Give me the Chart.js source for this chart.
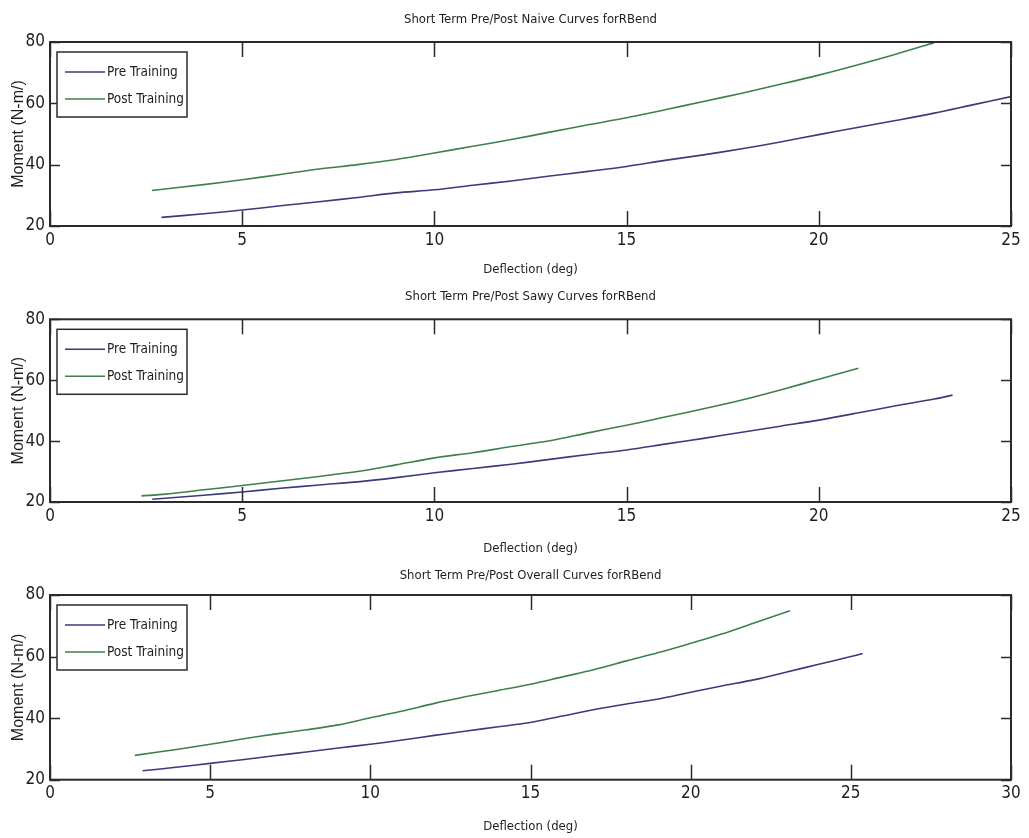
<!DOCTYPE html>
<html>
<head>
<meta charset="utf-8">
<title>Short Term Pre/Post Curves forRBend</title>
<script src="https://cdn.jsdelivr.net/npm/chart.js@4.4.1/dist/chart.umd.min.js"></script>
<style>
  html, body { margin: 0; padding: 0; background: #fff; }
  #page { position: relative; width: 1029px; height: 838px; overflow: hidden; }
  .panel { position: absolute; left: 0; width: 1029px; }
</style>
</head>
<body>
<div id="page">
  <div class="panel" style="top:0px;height:279px"><canvas id="grafNaive" width="1029" height="279"></canvas></div>
  <div class="panel" style="top:279px;height:279px"><canvas id="grafSavvy" width="1029" height="279"></canvas></div>
  <div class="panel" style="top:558px;height:280px"><canvas id="grafOverall" width="1029" height="280"></canvas></div>
</div>
<script>
// ------------------------------------------------------
// Dados
// ------------------------------------------------------
const seriesLabels = ["Pre Training", "Post Training"];

// Naive
const naivePreDeflection = [2.9, 4, 5, 6, 7, 8, 9, 10, 11, 12, 13, 14, 15, 16, 17, 18, 19, 20, 21, 22, 23, 24, 25];
const naivePreMoment = [22.8, 24.0, 25.2, 26.6, 27.9, 29.3, 30.8, 31.8, 33.3, 34.7, 36.3, 37.8, 39.4, 41.4, 43.2, 45.2, 47.4, 49.8, 52.1, 54.4, 56.8, 59.5, 62.2];
const naivePostDeflection = [2.65, 4, 5, 6, 7, 8, 9, 10, 11, 12, 13, 14, 15, 16, 17, 18, 19, 20, 21, 22, 23];
const naivePostMoment = [31.6, 33.5, 35.1, 36.8, 38.6, 40.0, 41.7, 43.8, 46.0, 48.2, 50.6, 53.0, 55.3, 57.9, 60.6, 63.3, 66.2, 69.2, 72.5, 76.0, 79.8];

// Savvy
const savvyPreDeflection = [2.66, 4, 5, 6, 7, 8, 9, 10, 11, 12, 13, 14, 15, 16, 17, 18, 19, 20, 21, 22, 23, 23.48];
const savvyPreMoment = [20.9, 22.2, 23.3, 24.5, 25.6, 26.6, 28.0, 29.6, 31.0, 32.4, 34.0, 35.6, 37.1, 39.0, 40.9, 42.9, 44.9, 46.9, 49.2, 51.6, 53.8, 55.1];
const savvyPostDeflection = [2.38, 3, 4, 5, 6, 7, 8, 9, 10, 11, 12, 13, 14, 15, 16, 17, 18, 19, 20, 21.03];
const savvyPostMoment = [22.0, 22.6, 24.0, 25.4, 26.9, 28.4, 30.0, 32.2, 34.5, 36.2, 38.2, 40.1, 42.7, 45.2, 47.9, 50.6, 53.5, 56.8, 60.3, 63.9];

// Overall
const overallPreDeflection = [2.89, 4, 5, 6, 7, 8, 9, 10, 11, 12, 13, 14, 15, 16, 17, 18, 19, 20, 21, 22, 23, 24, 25, 25.37];
const overallPreMoment = [22.9, 24.1, 25.3, 26.5, 27.8, 29.0, 30.3, 31.5, 32.9, 34.4, 35.8, 37.2, 38.6, 40.7, 42.8, 44.6, 46.2, 48.4, 50.5, 52.5, 55.0, 57.5, 60.0, 61.0];
const overallPostDeflection = [2.65, 4, 5, 6, 7, 8, 9, 10, 11, 12, 13, 14, 15, 16, 17, 18, 19, 20, 21, 22, 23.1];
const overallPostMoment = [27.9, 29.9, 31.5, 33.2, 34.8, 36.2, 37.8, 40.1, 42.3, 44.8, 47.0, 49.0, 51.0, 53.4, 55.8, 58.6, 61.3, 64.3, 67.4, 71.0, 74.9];

// Ticks
const yTicks = [20, 40, 60, 80];
const xTicksShort = [0, 5, 10, 15, 20, 25];
const xTicksLong = [0, 5, 10, 15, 20, 25, 30];

// ------------------------------------------------------
// Estilo
// ------------------------------------------------------
const FONTE_ESTREITA = '"Liberation Sans Narrow", "Arial Narrow", "DejaVu Sans Condensed", sans-serif';
const FONTE_NORMAL = '"Liberation Sans", Arial, sans-serif';
const COR_PRE = "#3b3b7c";
const COR_POST = "#3f7f4c";
const COR_EIXO = "#2b2b2b";
const COR_TEXTO = "#1e1e1e";

function toPoints(xs, ys) {
  return xs.map((x, i) => ({ x, y: ys[i] }));
}

// ------------------------------------------------------
// Plugin: caixa dos eixos, ticks internos e legenda (estilo MATLAB)
// ------------------------------------------------------
const matlabBox = {
  id: "matlabBox",
  afterDatasetsDraw(chart) {
    const { ctx, chartArea: a, scales } = chart;
    ctx.save();
    ctx.strokeStyle = COR_EIXO;
    ctx.lineWidth = 1.5;

    // ticks para dentro
    ctx.beginPath();
    scales.x.ticks.forEach(t => {
      const px = Math.round(scales.x.getPixelForValue(t.value)) + 0.5;
      ctx.moveTo(px, a.bottom); ctx.lineTo(px, a.bottom - 15);
      ctx.moveTo(px, a.top); ctx.lineTo(px, a.top + 15);
    });
    scales.y.ticks.forEach(t => {
      const py = Math.round(scales.y.getPixelForValue(t.value)) + 0.5;
      ctx.moveTo(a.left, py); ctx.lineTo(a.left + 10, py);
      ctx.moveTo(a.right, py); ctx.lineTo(a.right - 10, py);
    });
    ctx.stroke();

    ctx.lineWidth = 2;
    ctx.strokeRect(a.left, a.top, a.right - a.left, a.bottom - a.top);

    // legenda
    const bx = a.left + 7, by = a.top + 10, bw = 130, bh = 65;
    ctx.fillStyle = "#fff";
    ctx.fillRect(bx, by, bw, bh);
    ctx.lineWidth = 1.5;
    ctx.strokeRect(bx, by, bw, bh);
    ctx.font = "13.5px " + FONTE_ESTREITA;
    ctx.textBaseline = "middle";
    chart.data.datasets.forEach((ds, i) => {
      const ly = by + 20 + i * 27;
      ctx.strokeStyle = ds.borderColor;
      ctx.lineWidth = 1.5;
      ctx.beginPath();
      ctx.moveTo(bx + 8, ly); ctx.lineTo(bx + 48, ly);
      ctx.stroke();
      ctx.fillStyle = COR_TEXTO;
      ctx.fillText(ds.label, bx + 50, ly);
    });
    ctx.restore();
  }
};

// ------------------------------------------------------
// Criar um gráfico
// ------------------------------------------------------
function gerarGrafico(id, titulo, pre, post, xMax, xTicks, area) {
  const canvas = document.getElementById(id);
  const altura = canvas.height;

  return new Chart(canvas, {
    type: "line",
    data: {
      datasets: [
        { label: seriesLabels[0], data: pre, borderColor: COR_PRE, borderWidth: 1.6, pointRadius: 0, tension: 0.3 },
        { label: seriesLabels[1], data: post, borderColor: COR_POST, borderWidth: 1.6, pointRadius: 0, tension: 0.3 }
      ]
    },
    options: {
      responsive: false,
      devicePixelRatio: 1,
      animation: false,
      events: [],
      layout: { padding: { left: 0, right: 18, top: 0, bottom: 0 } },
      plugins: {
        legend: { display: false },
        tooltip: { enabled: false },
        title: {
          display: true,
          text: titulo,
          fullSize: false,
          color: COR_TEXTO,
          font: { family: FONTE_ESTREITA, size: 13, weight: "normal" },
          padding: { top: area.titleTop, bottom: area.top - 15.6 - area.titleTop }
        }
      },
      scales: {
        x: {
          type: "linear",
          min: 0,
          max: xMax,
          afterBuildTicks: s => { s.ticks = xTicks.map(v => ({ value: v })); },
          afterFit: s => { s.height = altura - area.bottom; },
          grid: { display: false, drawTicks: false },
          border: { display: false },
          ticks: { color: COR_TEXTO, padding: 4, font: { family: FONTE_ESTREITA, size: 17 }, maxRotation: 0 },
          title: {
            display: true,
            text: "Deflection (deg)",
            color: COR_TEXTO,
            font: { family: FONTE_ESTREITA, size: 13 },
            padding: { top: 0, bottom: area.xTitleBottom }
          }
        },
        y: {
          type: "linear",
          min: 20,
          max: 80,
          afterBuildTicks: s => { s.ticks = yTicks.map(v => ({ value: v })); },
          afterFit: s => { s.width = 50; },
          grid: { display: false, drawTicks: false },
          border: { display: false },
          ticks: { color: COR_TEXTO, padding: 5, font: { family: FONTE_ESTREITA, size: 17 } },
          title: {
            display: true,
            text: "Moment (N-m/)",
            color: COR_TEXTO,
            font: { family: FONTE_NORMAL, size: 16 },
            padding: { top: 9, bottom: 0 }
          }
        }
      }
    },
    plugins: [matlabBox]
  });
}

// ------------------------------------------------------
// Os três painéis
// ------------------------------------------------------
gerarGrafico("grafNaive", "Short Term Pre/Post Naive Curves forRBend",
  toPoints(naivePreDeflection, naivePreMoment), toPoints(naivePostDeflection, naivePostMoment),
  25, xTicksShort, { top: 42, bottom: 226, titleTop: 12, xTitleBottom: 2 });

gerarGrafico("grafSavvy", "Short Term Pre/Post Sawy Curves forRBend",
  toPoints(savvyPreDeflection, savvyPreMoment), toPoints(savvyPostDeflection, savvyPostMoment),
  25, xTicksShort, { top: 40.3, bottom: 223, titleTop: 10, xTitleBottom: 2 });

gerarGrafico("grafOverall", "Short Term Pre/Post Overall Curves forRBend",
  toPoints(overallPreDeflection, overallPreMoment), toPoints(overallPostDeflection, overallPostMoment),
  30, xTicksLong, { top: 37, bottom: 221.7, titleTop: 9.6, xTitleBottom: 4 });
</script>
</body>
</html>
